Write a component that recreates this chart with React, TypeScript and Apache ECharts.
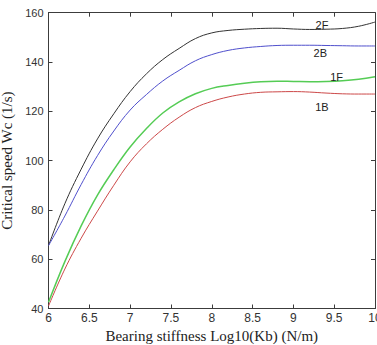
import React, { useEffect, useRef } from "react";
import * as echarts from "echarts";

const xs = [6, 6.2, 6.4, 6.6, 6.8, 7, 7.2, 7.4, 7.6, 7.8, 8, 8.2, 8.4, 8.6, 8.8, 9, 9.2, 9.4, 9.6, 9.8, 10];
const s2F = [65.5, 82.5, 96.5, 108.8, 119, 128, 135.2, 141, 145.5, 149.5, 151.8, 152.8, 153.3, 153.6, 153.7, 153.4, 153.2, 153.3, 153.6, 154.5, 156.2];
const s2B = [65.5, 77.5, 90.3, 102, 112, 120.5, 126.8, 132.3, 136.6, 140.5, 143, 144.7, 145.7, 146.3, 146.7, 146.8, 146.8, 146.7, 146.6, 146.5, 146.5];
const s1F = [42.5, 59, 73.5, 86, 96.3, 105.5, 113, 119.3, 123.8, 127.1, 129.3, 130.5, 131.4, 132, 132.2, 132.1, 132, 132.1, 132.4, 133, 134];
const s1B = [41, 56, 68.5, 79.5, 90, 99.5, 106.8, 112.7, 117.6, 121.5, 124, 125.8, 127, 127.7, 127.9, 128, 127.8, 127.4, 127.1, 127, 127];
const seriesNames = ["2F", "2B", "1F", "1B"];
const seriesColors = ["#333333", "#4f4fcc", "#55cc55", "#cc4848"];
const labelCoords: [number, number][] = [[9.35, 155], [9.33, 143.5], [9.53, 134], [9.35, 121.9]];
const xTitle = "Bearing stiffness Log10(Kb) (N/m)";
const yTitle = "Critical speed Wc (1/s)";

export default function App() {
  const ref = useRef<HTMLDivElement>(null);
  useEffect(() => {
    if (!ref.current) return;
    const chart = echarts.init(ref.current, undefined, { renderer: "svg" });
    const all = [s2F, s2B, s1F, s1B];
    const axisColor = "#3c3c3c";
    const labelFont = "Liberation Sans, Arial, sans-serif";
    chart.setOption({
      animation: false,
      backgroundColor: "#ffffff",
      grid: { left: 48.5, right: 2, top: 12.7, bottom: 36.5, outerBoundsMode: "none", containLabel: false },
      xAxis: [
        {
          type: "value", min: 6, max: 10, interval: 0.5,
          axisLine: { show: true, lineStyle: { color: axisColor, width: 1 } },
          axisTick: { show: true, inside: true, length: 4, lineStyle: { color: axisColor } },
          splitLine: { show: false },
          axisLabel: { color: "#333", fontSize: 12, margin: 3, fontFamily: labelFont },
          name: xTitle, nameLocation: "middle", nameGap: 18,
          nameTextStyle: { fontFamily: "Liberation Serif, Times New Roman, serif", fontSize: 15, color: "#222" },
        },
        {
          type: "value", min: 6, max: 10, interval: 0.5, position: "top",
          axisLine: { show: true, lineStyle: { color: axisColor, width: 1 } },
          axisTick: { show: true, inside: true, length: 4, lineStyle: { color: axisColor } },
          axisLabel: { show: false }, splitLine: { show: false },
        },
      ],
      yAxis: [
        {
          type: "value", min: 40, max: 160, interval: 20,
          axisLine: { show: true, lineStyle: { color: axisColor, width: 1 } },
          axisTick: { show: true, inside: true, length: 4, lineStyle: { color: axisColor } },
          splitLine: { show: false },
          axisLabel: { color: "#333", fontSize: 11, margin: 5, fontFamily: labelFont },
          name: yTitle, nameLocation: "middle", nameGap: 24,
          nameTextStyle: { fontFamily: "Liberation Serif, Times New Roman, serif", fontSize: 15, color: "#222" },
        },
        {
          type: "value", min: 40, max: 160, interval: 20, position: "right",
          axisLine: { show: true, lineStyle: { color: axisColor, width: 1 } },
          axisTick: { show: true, inside: true, length: 4, lineStyle: { color: axisColor } },
          axisLabel: { show: false }, splitLine: { show: false },
        },
      ],
      series: all.map((vals, i) => ({
        name: seriesNames[i],
        type: "line",
        smooth: 0.4,
        showSymbol: false,
        symbol: "none",
        lineStyle: { color: seriesColors[i], width: i === 2 ? 1.5 : 1 },
        data: xs.map((x, j) => [x, vals[j]]),
        markPoint: {
          symbol: "circle",
          symbolSize: 0,
          label: {
            show: true, position: "inside", formatter: seriesNames[i],
            color: "#222", fontSize: 11, fontFamily: labelFont,
          },
          data: [{ coord: labelCoords[i] }],
        },
      })),
    });
    return () => chart.dispose();
  }, []);
  return <div ref={ref} style={{ position: "absolute", left: 0, top: 0, width: 377, height: 345 }} />;
}
